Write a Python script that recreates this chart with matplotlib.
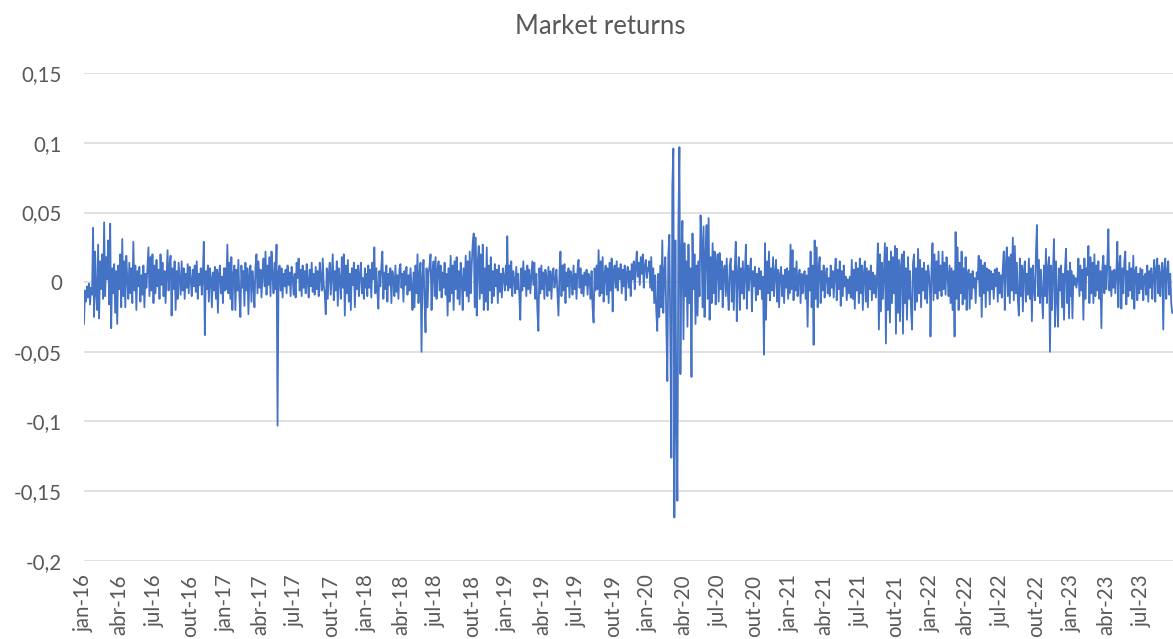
import matplotlib.pyplot as plt
import numpy as np
import pandas as pd

plt.rcParams['font.family'] = ['Lato', 'DejaVu Sans']

# daily market returns, in thousandths, one list per calendar year
r2016 = [
    -30, -6, -14, -3, -11, -1, -16, -4, -9, 39,
    -25, 22, -8, -20, 27, -26, 15, -5, 20, -12,
    43, -10, 18, 2, 30, -16, 42, -33, 10, -8,
    13, -22, 8, -30, 12, -5, 20, -18, 31, -10,
    15, -18, 19, 2, -12, 14, -8, 10, -15, 29,
    -6, 12, -20, 8, -3, 11, -14, 5, -9, 12,
    -18, 6, -4, 10, 25, -10, 18, -6, 20, -15,
    12, -8, 16, -3, 9, -12, 20, -2, 14, -10,
    8, -15, 5, 23, -6, 12, 19, -24, 10, -5,
    15, -20, 8, -12, 14, 3, -9, 15, -6, 10,
    -12, 6, -4, 13, -8, 11, 2, -10, 9, -3,
    12, -7, 15, -12, 6, -2, 10, -9, 5, 29,
    -38, 8, -5, 12, -14, 10, 3, -18, 7, -6,
    11, -12, 9, -22, 6, 12, -8, 4, -15, 10,
    -6,
]
r2017 = [
    10, -5, 27, -8, 14, -12, 18, -20, 6, 12,
    -20, 9, -6, 16, -10, -25, 12, -4, 8, -17,
    14, -6, 10, -23, 5, 12, -14, 8, -2, -18,
    11, 20, -8, 15, -4, 9, -11, 6, 17, -3,
    22, -9, 12, -2, 18, -10, 22, 5, -8, 14,
    -5, 27, -103, 8, 12, -6, 10, -11, 6, -3,
    9, -8, 12, -2, 7, -10, 11, 4, -9, 6,
    -11, 14, 3, 17, -6, 9, -10, 12, -4, 8,
    -8, 13, 2, -11, 9, -3, 14, -7, 6, -9,
    11, -5, 8, -10, 14, 3, -6, 17, -2, -8,
    -23, 10, -12, 6, 14, -9, 5, 20, -13, 8,
    -6, 15, -17, 10, 3, -12, 18, -4, 20, -24,
    12, -8, 16, -14, 6, -20, 10, -2, 14, -18,
    9, -5, 12, -10, 6, 14, -8, 3, -12, 10,
    -4,
]
r2018 = [
    6, -10, 12, -4, 9, -11, 14, 2, 25, -8,
    10, -6, -19, 8, -3, 11, 22, -12, 7, -5,
    12, -14, 6, -2, 10, -15, 8, 3, -10, 12,
    -7, 5, -12, 9, 13, -4, 6, -14, 8, -2,
    11, -9, 5, -6, 10, -3, -20, 7, -18, 12,
    -8, 20, -15, 6, 14, -50, 4, 16, -12, -36,
    10, -18, 6, 12, 20, -20, 8, 15, -10, 18,
    -12, 9, 15, -6, 12, -11, 7, -4, 14, -9,
    6, -24, 10, -14, 19, -8, 12, -20, 15, -5,
    18, -12, 8, -16, 14, 3, -20, 10, -6, 19,
    -10, 15, -14, 22, -8, 12, 28, 35, -18, 32,
    -24, 14, 26, -12, 20, -8, 27, -20, 10, -14,
    25, -20, 12, -6, 18, -15, 8, -10, 13, -3,
    9, -15, 12, -7, 6, -11, 10, 4, -6, 12,
    -2,
]
r2019 = [
    33, -6, 12, -4, 15, -10, 8, 2, -8, 11,
    -5, 6, -9, -27, 10, -6, 15, -3, 8, -10,
    12, -5, 9, -8, 4, 15, -2, 14, -12, 6,
    -20, -35, 10, -8, 12, -5, 7, -12, 9, 3,
    -10, 11, -6, 8, -12, 5, 10, -4, 2, 9,
    -8, -24, 6, 22, -10, 12, -6, 13, -15, 7,
    -3, 10, -11, 8, 4, -9, 12, -5, 6, -12,
    9, 16, -4, 10, -8, 5, -10, 7, -2, 9,
    -9, 6, 3, -12, 8, -18, -29, 10, -6, 12,
    -5, 23, -10, 15, -8, 18, -14, 6, 12, -9,
    10, -15, 14, -6, 17, -21, 8, 12, -4, 15,
    -6, 10, 2, 13, -8, 9, -3, 12, -13, 6,
    11, -4, 8, -10, 13, 2, 15, -5, 10, 22,
    4, 14, -2, 18, 6, 20, -4, 12, 16, 3,
    10,
]
r2020 = [
    8, 15, -4, 18, -6, 10, -15, 5, -20, -35,
    6, -25, 12, -18, 30, -22, 8, 18, -30, -71,
    20, 34, -40, -126, 70, 96, -169, 30, -100, -157,
    40, 97, -66, 20, 44, -41, 28, -10, 15, -32,
    27, -15, 10, -68, 35, -5, 20, -30, 12, -24,
    15, -10, 48, 30, -18, 40, -25, 20, 41, -12,
    46, -27, 18, -15, 28, -8, 22, -16, 12, 20,
    -14, 21, -5, 15, -18, 8, 12, -10, 17, -6,
    -20, 12, 17, -14, 8, -20, 10, 29, -28, 6,
    18, -20, 10, -8, 15, -12, 5, 27, -19, 12,
    -6, 9, 17, -21, 8, -3, 11, -13, 6, -9,
    10, -5, 8, -12, 4, -52, 28, -27, 15, -8,
    22, -13, 10, -6, 18, -10, 7, 16, -14, 9,
    -18, 6, 11, -10, 5, -15, 9, -4, 10, -12,
    8,
]
r2021 = [
    -8, 27, -5, 23, -13, 10, -6, 15, -10, 4,
    9, -15, 6, -8, 3, 8, -12, 5, -32, 10,
    -6, 22, -18, 12, -45, 30, -12, 25, -18, 10,
    18, -15, 8, -6, 12, -11, 5, 10, -8, 3,
    -10, 12, -4, 8, -11, 6, 17, -13, 9, -5,
    15, -17, 8, -10, 12, -3, 4, -13, 2, -8,
    4, -11, 16, -12, 9, -19, 14, -6, 10, -15,
    17, -8, 12, -20, 6, 15, -14, 10, -18, 8,
    -5, 12, -13, 7, -8, 5, -11, 3, 28, -34,
    20, -21, 14, -12, 9, 28, -44, 25, -20, 15,
    -29, 22, -15, 18, -8, 26, -37, 24, -22, 16,
    -28, 12, 20, -37, 22, -15, 10, -27, 18, -12,
    8, -20, -34, 14, 20, -20, 10, -14, 24, -8,
    16, -18, 10, -6, 14, -12, 8, -15, 12, 5,
    -10,
]
r2022 = [
    -39, 10, 28, -13, 20, -8, 15, -12, 22, -6,
    12, -10, 22, -5, 14, -9, 18, 6, -10, 12,
    -15, 10, -20, 8, -39, 36, -12, 25, -20, 14,
    -8, 22, -16, 10, -12, 18, -20, 5, 9, -19,
    6, -12, 8, -4, 3, -15, 7, 2, 19, -10,
    16, -25, 12, -8, 14, -18, 10, -6, 9, -16,
    8, -5, 6, -12, 9, -3, 10, -14, 7, -8,
    5, -11, 10, 22, -20, 12, 25, -10, 18, -15,
    20, -6, 32, -13, 26, -8, 14, -12, -24, 17,
    -10, 12, -21, 8, 15, -14, 6, -9, 17, -12,
    10, -28, 12, -5, -13, 20, 41, -10, 16, -15,
    9, -8, -26, 12, -10, 24, -15, 10, 18, -50,
    12, -20, 8, 31, -32, 15, -10, -32, 10, -6,
    12, -18, 6, -27, 10, 24, -15, 8, -26, 14,
    -10,
]
r2023 = [
    8, -26, 5, -2, 3, -4, 2, 17, -10, 12,
    -6, 9, -27, 17, -12, 10, 5, 26, -15, 18,
    -8, 14, -15, 20, -10, 12, -6, 15, -12, 8,
    -33, 10, 19, -8, 12, -5, 14, 38, -6, 11,
    -10, 8, -4, 9, -8, 6, 29, -18, 12, 19,
    -19, 10, -8, 15, 22, -16, 8, -10, 14, -6,
    10, -12, 19, -19, 8, 11, -13, 6, -8, 10,
    -5, 9, -13, 4, 6, -9, 12, -14, 8, -4,
    10, -12, 5, 16, -14, 9, 17, -8, 12, -10,
    6, 14, -34, 10, 17, -12, 8, 15, -9, 6,
    -15, -22,
]

years = [2016, 2017, 2018, 2019, 2020, 2021, 2022, 2023]
yearly = [r2016, r2017, r2018, r2019, r2020, r2021, r2022, r2023]
last_day = ['12-31'] * 7 + ['09-19']

month_names = ['jan', 'abr', 'jul', 'out']
y_ticks = [-0.2, -0.15, -0.1, -0.05, 0, 0.05, 0.1, 0.15]
y_labels = ['-0,2', '-0,15', '-0,1', '-0,05', '0', '0,05', '0,1', '0,15']

# spread each year's observations over that year
dates = pd.DatetimeIndex([])
for y, vals, end in zip(years, yearly, last_day):
    dates = dates.append(pd.date_range(f'{y}-01-01', f'{y}-{end}', periods=len(vals)))
returns = np.concatenate(yearly) / 1000

x_start = pd.Timestamp('2016-01-01')
x_end = pd.Timestamp('2023-09-21')

# quarterly date labels that fall inside the axis
tick_dates, tick_labels = [], []
for y in years:
    for k, m in enumerate(month_names):
        d = pd.Timestamp(y, 1 + 3 * k, 1)
        if d <= x_end:
            tick_dates.append(d)
            tick_labels.append(f'{m}-{y % 100:02d}')

W, H = 1173, 639
fig = plt.figure(figsize=(W / 100, H / 100), dpi=100)
ax = fig.add_axes([84 / W, 1 - 560.7 / H, 1 - 84 / W, (560.7 - 73.3) / H])

ax.plot(dates, returns, color='#4472C4', lw=1.3)

ax.set_yticks(y_ticks)
ax.set_yticklabels(y_labels)
ax.set_xticks(tick_dates)
ax.set_xticklabels(tick_labels, rotation=90)
ax.set_ylim(-0.2, 0.15)
ax.set_xlim(x_start, x_end)

ax.grid(axis='y', color='#D9D9D9', lw=1.1)
ax.set_axisbelow(True)
for s in ax.spines.values():
    s.set_visible(False)
ax.tick_params(axis='y', length=0, pad=16, labelsize=14.8, labelcolor='#595959')
ax.tick_params(axis='x', length=0, pad=10, labelsize=14.8, labelcolor='#595959')

fig.text(600 / W, 1 - 26 / H, 'Market returns', ha='center', va='center',
         fontsize=18.5, color='#595959')

fig.savefig('out.png', dpi=100)
